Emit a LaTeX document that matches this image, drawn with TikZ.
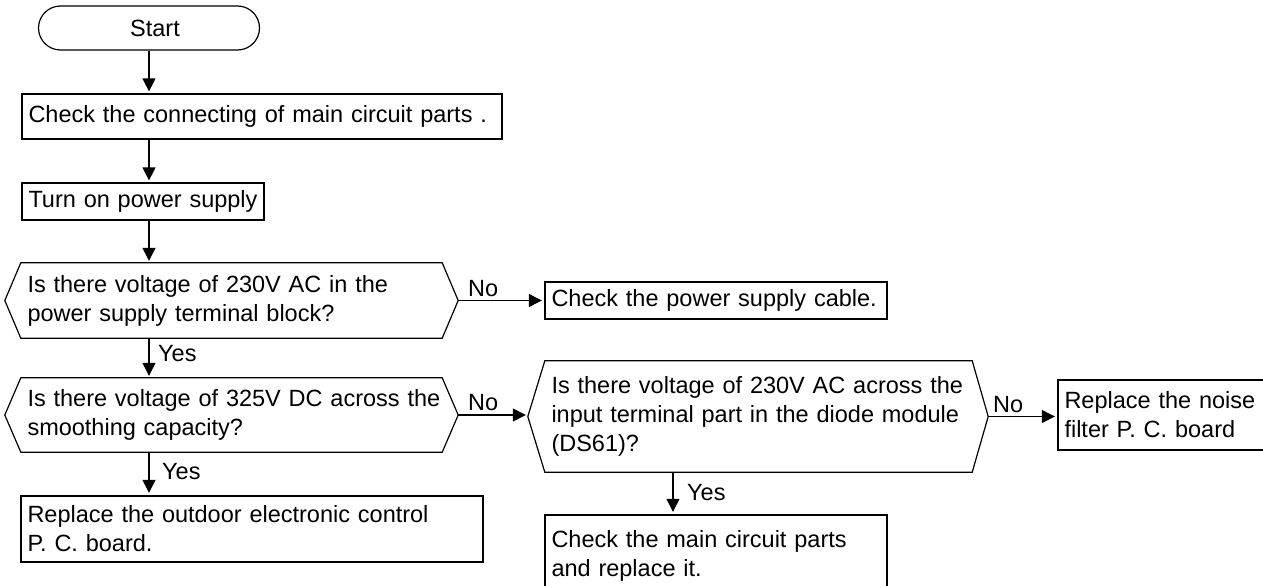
\documentclass[tikz,border=0pt]{standalone}
\usepackage{fontspec}
\setmainfont{Liberation Sans}
\usetikzlibrary{shapes.misc,arrows.meta,calc}
\hfuzz=50pt
\begin{document}
\begin{tikzpicture}[x=1pt,y=-1pt,
  every node/.style={font=\fontsize{23.5}{29}\selectfont},
  ln/.style={line width=1.2pt},
  arr/.style={ln,-{Triangle[width=13pt,length=13pt]},shorten >=2pt},
  box/.style={draw,line width=1.2pt,inner xsep=6.5pt,inner ysep=0pt,align=left},
  thickbox/.style={box,line width=2.4pt},
  txt/.style={inner xsep=6.5pt,inner ysep=0pt,align=left},
  lab/.style={anchor=base west,inner sep=0pt}]
\useasboundingbox (0,0) rectangle (1263,586);

% start
\node[draw,ln,rounded rectangle,minimum width=221pt,minimum height=44pt,inner sep=0pt] (start) at (149,28) {\hspace*{12pt}Start};

% boxes
\node[box,minimum width=480pt,minimum height=45pt,text width=467pt] (b1) at (262,116.5) {\mbox{Check the connecting of main circuit parts .}};
\node[box,minimum width=242pt,minimum height=37pt,text width=229pt] (b2) at (143,201.5) {\mbox{Turn on power supply}};
\node[thickbox,minimum width=342pt,minimum height=37pt,text width=329pt] (b3) at (716,300.5) {\mbox{Check the power supply cable.}};
\node[thickbox,minimum width=462pt,minimum height=66pt,text width=449pt] (b4) at (252,529) {\mbox{Replace the outdoor electronic control}\\\mbox{P. C. board.}};
\node[thickbox,minimum width=342pt,minimum height=82pt,text width=329pt] (b5) at (716,556) {\mbox{Check the main circuit parts}\\\mbox{and replace it.}};
\node[thickbox,minimum width=222pt,minimum height=70pt,text width=209pt] (b6) at (1169,415) {\mbox{Replace the noise}\\\mbox{filter P. C. board}};

% decisions
\node[txt,minimum width=421pt,minimum height=75pt,text width=408pt] (d1) at (231.5,300.5) {\mbox{Is there voltage of 230V AC in the}\\\mbox{power supply terminal block?}};
\node[txt,minimum width=421pt,minimum height=74pt,text width=408pt] (d2) at (231.5,415) {\mbox{Is there voltage of 325V DC across the}\\\mbox{smoothing capacity?}};
\node[txt,minimum width=427pt,minimum height=111pt,text width=414pt] (d3) at (758.5,416.5) {\mbox{Is there voltage of 230V AC across the}\\\mbox{input terminal part in the diode module}\\\mbox{(DS61)?}};

\coordinate (d1l) at ($(d1.west)+(-16,0)$);
\coordinate (d1r) at ($(d1.east)+(16,0)$);
\coordinate (d2l) at ($(d2.west)+(-16,0)$);
\coordinate (d2r) at ($(d2.east)+(16,0)$);
\coordinate (d3l) at ($(d3.west)+(-17,0)$);
\coordinate (d3r) at ($(d3.east)+(16,0)$);

\draw[ln] (d1l) -- (d1.north west) -- (d1.north east) -- (d1r) -- (d1.south east) -- (d1.south west) -- cycle;
\draw[ln] (d2l) -- (d2.north west) -- (d2.north east) -- (d2r) -- (d2.south east) -- (d2.south west) -- cycle;
\draw[ln] (d3l) -- (d3.north west) -- (d3.north east) -- (d3r) -- (d3.south east) -- (d3.south west) -- cycle;

% connectors
\draw[arr] (start.south) -- (start.south |- b1.north);
\draw[arr] (b1.south -| start.south) -- (b2.north -| start.south);
\draw[arr] (b2.south -| start.south) -- (d1.north -| start.south);
\draw[arr] (d1.south -| start.south) -- (d2.north -| start.south);
\draw[arr] (d2.south -| start.south) -- (b4.north -| start.south);
\draw[arr] (d1r) -- (d1r -| b3.west);
\draw[arr] (d2r) -- (d2r -| d3l);
\draw[arr] (d3r) -- (d3r -| b6.west);
\coordinate (c3) at (673,0);
\draw[arr] (d3.south -| c3) -- (b5.north -| c3);

% labels
\node[lab] (n1) at (468,296) {No};
\node[lab] (n2) at (468,410) {No};
\node[lab] (n3) at (993,412) {No};
\node[lab] (y1) at (158,361) {Yes};
\node[lab] (y2) at (162,479) {Yes};
\node[lab] (y3) at (687,500) {Yes};
\end{tikzpicture}
\end{document}
